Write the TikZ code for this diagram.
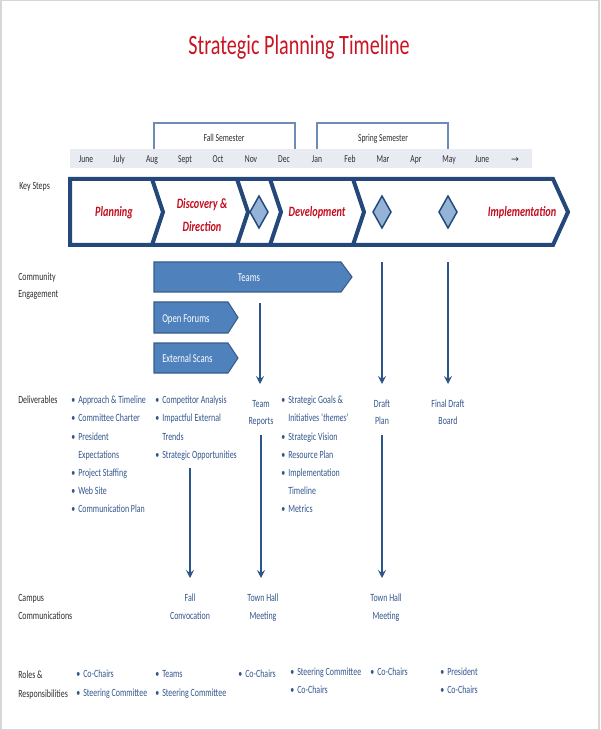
\documentclass[tikz,border=0pt]{standalone}
\usepackage{fontspec}
\setmainfont[FakeStretch=0.72]{Carlito}
\newfontfamily\djv{DejaVu Sans}
\usetikzlibrary{arrows.meta}
\definecolor{ttlred}{RGB}{200,20,35}
\definecolor{chvred}{RGB}{195,12,30}
\definecolor{chvblue}{RGB}{36,72,122}
\definecolor{dmdfill}{RGB}{149,179,215}
\definecolor{barfill}{RGB}{79,129,189}
\definecolor{barline}{RGB}{56,93,138}
\definecolor{arrblue}{RGB}{45,85,135}
\definecolor{txtblue}{RGB}{50,85,140}
\definecolor{monbg}{RGB}{232,236,242}
\definecolor{brk}{RGB}{110,140,182}
\definecolor{lblgray}{RGB}{45,45,45}
\definecolor{frm}{RGB}{215,215,215}
\newcommand\bul{\llap{\textbullet\hspace{2.2pt}}}
\begin{document}
\begin{tikzpicture}[x=0.75pt,y=-0.75pt,
  txt/.style={inner sep=0pt,anchor=base west,font=\fontsize{8.25}{10}\selectfont,text=txtblue},
  ctr/.style={txt,anchor=base},
  lbl/.style={txt,text=lblgray},
  mon/.style={inner sep=0pt,anchor=base,font=\fontsize{7.9}{9}\selectfont,text=lblgray},
  chv/.style={inner sep=0pt,anchor=base,font=\fontsize{10.7}{12}\selectfont\bfseries\itshape,text=chvred},
  wht/.style={inner sep=0pt,anchor=base west,font=\fontsize{9}{10}\selectfont,text=white},
  chvline/.style={draw=chvblue,line width=3pt,line join=miter},
  dmd/.style={fill=dmdfill,draw=chvblue,line width=1.1pt,line join=miter},
  barshape/.style={fill=barfill,draw=barline,line width=0.8pt},
  arr/.style={draw=arrblue,line width=1.2pt,-{Stealth[length=6pt,width=6pt,inset=2.2pt]}},
  brkline/.style={draw=brk,line width=0.9pt}]
\useasboundingbox (0,0) rectangle (600,730);
\draw[frm,line width=1pt] (1,0.7) rectangle (599,729.3);

% title
\node[inner sep=0pt,anchor=base,font=\fontsize{21}{24}\selectfont,text=ttlred] (title) at (299,55) {Strategic Planning Timeline};

% month bar
\fill[monbg] (70,149) rectangle (532,168);
\foreach \m [count=\i] in {June,July,Aug,Sept,Oct,Nov,Dec,Jan,Feb,Mar,Apr,May,June}
  \node[mon] (m\i) at ({53+33*\i},163) {\m};
\node[mon] (m14) at (515,163) {{\djv\fontsize{7}{9}\selectfont →}};

% semesters
\draw[brkline] (154,149) -- (154,123) -- (295,123) -- (295,149);
\draw[brkline] (317,149) -- (317,123) -- (448,123) -- (448,149);
\node[mon] (fall) at (224,142) {Fall Semester};
\node[mon] (spring) at (383,142) {Spring Semester};

% left labels
\node[lbl] (ks) at (19,190) {Key Steps};
\node[lbl] (ce1) at (18,281) {Community};
\node[lbl] (ce2) at (18,297) {Engagement};
\node[lbl] (dl) at (18,403) {Deliverables};
\node[lbl] (cc1) at (18,601) {Campus};
\node[lbl] (cc2) at (18,619) {Communications};
\node[lbl] (rr1) at (18,678) {Roles \&};
\node[lbl] (rr2) at (18,697) {Responsibilities};

% key steps chevrons
\draw[chvline] (70,179) -- (553,179) -- (568,212) -- (553,245) -- (70,245) -- cycle;
\draw[chvline] (152,179) -- (163,212) -- (152,245);
\draw[chvline] (237,179) -- (248,212) -- (237,245);
\draw[chvline] (270,179) -- (281,212) -- (270,245);
\draw[chvline] (353,179) -- (364,212) -- (353,245);
\draw[dmd] (259,196) -- (268,212) -- (259,228) -- (250,212) -- cycle;
\draw[dmd] (382,196) -- (391,212) -- (382,228) -- (373,212) -- cycle;
\draw[dmd] (448,196) -- (457,212) -- (448,228) -- (439,212) -- cycle;
\node[chv] (plan) at (114,217) {Planning};
\node[chv] (disc1) at (202,209) {Discovery \&};
\node[chv] (disc2) at (202,232) {Direction};
\node[chv] (dev) at (317,217) {Development};
\node[chv] (impl) at (522,217) {Implementation};

% community engagement
\draw[barshape] (154,262) -- (341,262) -- (352,277) -- (341,292) -- (154,292) -- cycle;
\draw[barshape] (154,302) -- (228,302) -- (238,317.5) -- (228,333) -- (154,333) -- cycle;
\draw[barshape] (154,343) -- (228,343) -- (238,358) -- (228,373) -- (154,373) -- cycle;
\node[wht,anchor=base] (teams) at (249,282) {Teams};
\node[wht] (forums) at (162,322) {Open Forums};
\node[wht] (scans) at (162,362) {External Scans};

% deliverables
\node[txt] (d11) at (78,403) {\bul Approach \& Timeline};
\node[txt] (d12) at (78,421) {\bul Committee Charter};
\node[txt] (d13) at (78,440) {\bul President};
\node[txt] (d14) at (78,458) {Expectations};
\node[txt] (d15) at (78,476) {\bul Project Staffing};
\node[txt] (d16) at (78,494) {\bul Web Site};
\node[txt] (d17) at (78,512) {\bul Communication Plan};
\node[txt] (d21) at (162,403) {\bul Competitor Analysis};
\node[txt] (d22) at (162,421) {\bul Impactful External};
\node[txt] (d23) at (162,440) {Trends};
\node[txt] (d24) at (162,458) {\bul Strategic Opportunities};
\node[ctr] (tr1) at (261,407) {Team};
\node[ctr] (tr2) at (261,424) {Reports};
\node[txt] (d31) at (288,403) {\bul Strategic Goals \&};
\node[txt] (d32) at (288,421) {Initiatives ‘\textit{themes}’};
\node[txt] (d33) at (288,440) {\bul Strategic Vision};
\node[txt] (d34) at (288,458) {\bul Resource Plan};
\node[txt] (d35) at (288,476) {\bul Implementation};
\node[txt] (d36) at (288,494) {Timeline};
\node[txt] (d37) at (288,512) {\bul Metrics};
\node[ctr] (dp1) at (382,407) {Draft};
\node[ctr] (dp2) at (382,424) {Plan};
\node[ctr] (fd1) at (448,407) {Final Draft};
\node[ctr] (fd2) at (448,424) {Board};

% campus communications
\node[ctr] (fc1) at (190,601) {Fall};
\node[ctr] (fc2) at (190,619) {Convocation};
\node[ctr] (th1) at (263,601) {Town Hall};
\node[ctr] (th2) at (263,619) {Meeting};
\node[ctr] (tt1) at (386,601) {Town Hall};
\node[ctr] (tt2) at (386,619) {Meeting};

% roles
\node[txt] (r11) at (83,677) {\bul Co-Chairs};
\node[txt] (r12) at (83,696) {\bul Steering Committee};
\node[txt] (r21) at (162,677) {\bul Teams};
\node[txt] (r22) at (162,696) {\bul Steering Committee};
\node[txt] (r31) at (245,677) {\bul Co-Chairs};
\node[txt] (r41) at (297,675) {\bul Steering Committee};
\node[txt] (r42) at (297,693) {\bul Co-Chairs};
\node[txt] (r51) at (377,675) {\bul Co-Chairs};
\node[txt] (r61) at (447,675) {\bul President};
\node[txt] (r62) at (447,693) {\bul Co-Chairs};

% arrows
\coordinate (s1) at (260,303);
\coordinate (e1) at (260,384);
\coordinate (s2) at (382,262);
\coordinate (e2) at (382,384);
\coordinate (s3) at (448,262);
\coordinate (e3) at (448,384);
\coordinate (s4) at (190,468);
\coordinate (e4) at (190,578);
\coordinate (s5) at (261,435);
\coordinate (e5) at (261,578);
\coordinate (s6) at (382,435);
\coordinate (e6) at (382,578);
\draw[arr] (s1) -- (e1);
\draw[arr] (s2) -- (e2);
\draw[arr] (s3) -- (e3);
\draw[arr] (s4) -- (e4);
\draw[arr] (s5) -- (e5);
\draw[arr] (s6) -- (e6);
\end{tikzpicture}
\end{document}
